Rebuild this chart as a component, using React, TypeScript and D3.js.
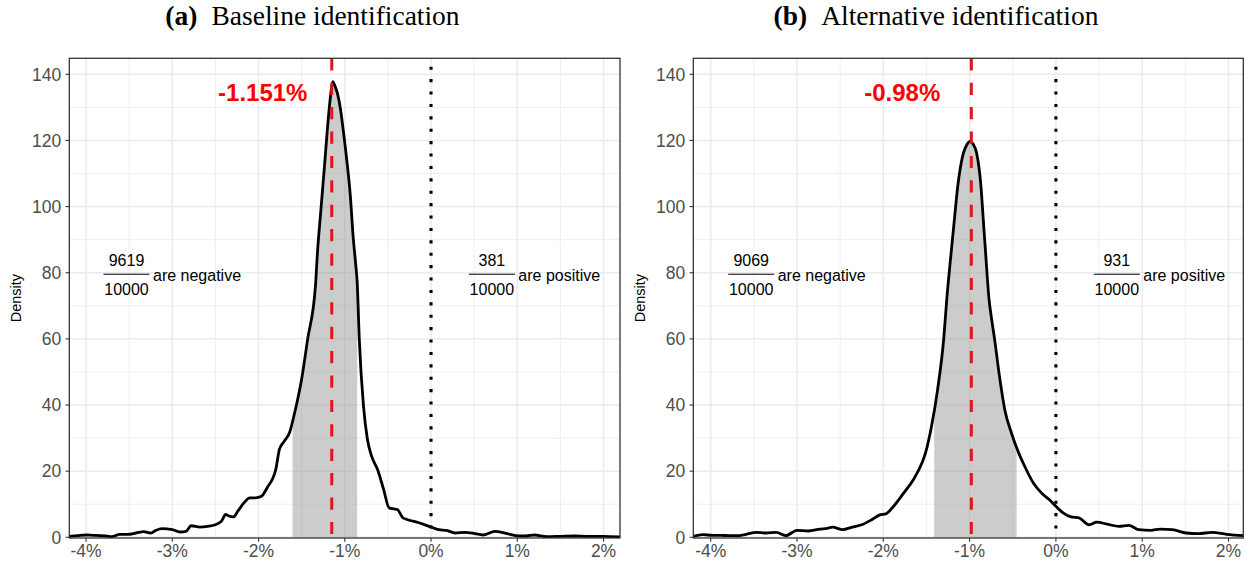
import React from 'react';
import * as d3 from 'd3';

// ---------------- data ----------------
const xTickValues = [-4, -3, -2, -1, 0, 1, 2];
const xMinorValues = [-3.5, -2.5, -1.5, -0.5, 0.5, 1.5];
const yTickValues = [0, 20, 40, 60, 80, 100, 120, 140];
const yMinorValues = [10, 30, 50, 70, 90, 110, 130];

const panelTags = ['(a)', '(b)'];
const panelTitles = ['Baseline identification', 'Alternative identification'];
const medianValues = [-1.151, -0.98];
const medianLabels = ['-1.151%', '-0.98%'];
const ciLower = [-1.605, -1.41];
const ciUpper = [-0.856, -0.455];
const negativeCounts = [9619, 9069];
const positiveCounts = [381, 931];
const drawCount = 10000;

const densityAX = [-4.19, -4.1, -4.0, -3.92, -3.84, -3.77, -3.7, -3.61, -3.52, -3.42, -3.33, -3.25, -3.19, -3.12, -3.0, -2.91, -2.84, -2.78, -2.68, -2.59, -2.5, -2.43, -2.38, -2.34, -2.29, -2.24, -2.17, -2.1, -2.035, -1.966, -1.9, -1.8, -1.758, -1.7, -1.64, -1.58, -1.5, -1.43, -1.34, -1.317, -1.28, -1.236, -1.19, -1.165, -1.14, -1.115, -1.086, -1.05, -1.023, -0.977, -0.938, -0.9, -0.875, -0.856, -0.832, -0.784, -0.738, -0.69, -0.62, -0.55, -0.486, -0.43, -0.39, -0.33, -0.28, -0.14, 0.0, 0.09, 0.18, 0.28, 0.39, 0.51, 0.6, 0.74, 0.88, 1.02, 1.1, 1.2, 1.34, 1.5, 1.67, 1.8, 1.99, 2.19];
const densityAY = [0.3, 0.5, 0.7, 0.6, 0.5, 0.4, 0.2, 0.9, 0.9, 1.3, 1.7, 1.3, 2.1, 2.6, 2.3, 1.6, 1.8, 3.5, 3.1, 3.3, 3.8, 4.9, 6.9, 6.4, 6.2, 7.9, 10.4, 11.9, 11.9, 12.4, 15, 20.5, 26.6, 29.1, 31.7, 37.8, 47.9, 60, 76, 86, 98, 112, 127, 133.5, 137.8, 136.5, 134.3, 129.5, 124.2, 114.1, 104, 89.9, 83, 77, 60, 40, 29.7, 24.6, 20.5, 14.5, 8.9, 8.6, 8.4, 6.0, 5.4, 4.4, 3.1, 2.3, 2.1, 1.3, 1.5, 1.1, 0.7, 1.8, 1.1, 0.4, 0.4, 0.7, 0.2, 0.3, 0.4, 0.3, 0.3, 0.1];

const densityBX = [-4.2, -4.09, -3.98, -3.88, -3.79, -3.7, -3.59, -3.47, -3.36, -3.24, -3.13, -3.0, -2.87, -2.73, -2.65, -2.59, -2.47, -2.36, -2.25, -2.13, -2.04, -1.97, -1.88, -1.76, -1.65, -1.55, -1.51, -1.44, -1.37, -1.3, -1.265, -1.215, -1.177, -1.138, -1.073, -1.03, -0.995, -0.96, -0.918, -0.868, -0.841, -0.814, -0.775, -0.745, -0.711, -0.655, -0.586, -0.517, -0.448, -0.355, -0.263, -0.171, -0.078, 0.0, 0.083, 0.175, 0.268, 0.383, 0.475, 0.59, 0.73, 0.845, 0.96, 1.1, 1.21, 1.35, 1.51, 1.65, 1.81, 1.98, 2.18];
const densityBY = [0.3, 0.8, 0.6, 0.6, 0.5, 0.5, 0.9, 1.5, 1.3, 1.5, 0.5, 2.1, 1.9, 2.5, 2.7, 3.1, 2.3, 3.1, 3.8, 5.4, 6.8, 7.1, 9.4, 13.5, 17.5, 22.6, 25.6, 33.7, 44.8, 60, 71.8, 85.8, 95.9, 106, 116.1, 118.8, 119.7, 118.9, 116.1, 106, 95.9, 85.8, 72, 66, 60, 48.9, 37.8, 31.7, 26.6, 21.1, 16.5, 13.5, 11.4, 9.4, 7.4, 6.2, 5.9, 3.8, 4.6, 4.0, 3.3, 3.6, 2.3, 2.1, 2.5, 2.3, 1.3, 1.1, 1.5, 0.9, 0.5];

const densityXs = [densityAX, densityBX];
const densityYs = [densityAY, densityBY];

// ---------------- layout ----------------
const W = 1247;
const H = 562;
const panelLeft = [69.3, 693.3];
const panelRight = [620, 1243.3];
const domainLeft = [-4.194, -4.2016];
const domainRight = [2.191, 2.1715];
const panelTop = 58.3;
const panelBottom = 538;
const yZeroPx = 537.3;
const yMax = 144.84;
const subfigCenter = [312.5, 936];

const sans = '"Liberation Sans", Arial, Helvetica, sans-serif';
const serif = '"Liberation Serif", "Times New Roman", serif';

let measureCtx: CanvasRenderingContext2D | null = null;
function textWidth(s: string, font: string): number {
  if (!measureCtx && typeof document !== 'undefined') {
    measureCtx = document.createElement('canvas').getContext('2d');
  }
  if (!measureCtx) return s.length * 8;
  measureCtx.font = font;
  return measureCtx.measureText(s).width;
}

function Fraction({ cx, cy, num, den, label }: { cx: number; cy: number; num: number; den: number; label: string }) {
  const fracSize = 16;
  const textSize = 16;
  const denW = textWidth(String(den), `${fracSize}px ${sans}`);
  const barW = denW + 1.5;
  const gap = 3.5;
  const labW = textWidth(label, `${textSize}px ${sans}`);
  const total = barW + gap + labW;
  const x0 = cx - total / 2;
  const barMid = x0 + barW / 2;
  return (
    <g fontFamily={sans} fill="#000">
      <text x={barMid} y={cy - 7} fontSize={fracSize} textAnchor="middle">{num}</text>
      <line x1={x0} x2={x0 + barW} y1={cy + 1.5} y2={cy + 1.5} stroke="#000" strokeWidth={1} />
      <text x={barMid} y={cy + 22.3} fontSize={fracSize} textAnchor="middle">{den}</text>
      <text x={x0 + barW + gap} y={cy + 8.3} fontSize={textSize}>{label}</text>
    </g>
  );
}

function Panel({ i }: { i: number }) {
  const x = d3.scaleLinear().domain([domainLeft[i], domainRight[i]]).range([panelLeft[i], panelRight[i]]);
  const y = d3.scaleLinear().domain([0, yMax]).range([yZeroPx, panelTop]);
  const pts: [number, number][] = densityXs[i].map((v, j) => [v, densityYs[i][j]]);
  const line = d3.line<[number, number]>().x(d => x(d[0])).y(d => y(d[1])).curve(d3.curveMonotoneX);
  const area = d3.area<[number, number]>().x(d => x(d[0])).y0(y(0)).y1(d => y(d[1])).curve(d3.curveMonotoneX);
  const x0 = panelLeft[i];
  const x1 = panelRight[i];
  const clipId = `panel-clip-${i}`;
  const ciId = `ci-clip-${i}`;
  const tagFont = `bold 27.5px ${serif}`;
  const titleFont = `27.5px ${serif}`;
  const tagW = textWidth(panelTags[i], tagFont);
  const titleW = textWidth(panelTitles[i], titleFont);
  const titleGap = 14;
  const tStart = subfigCenter[i] - (tagW + titleGap + titleW) / 2;
  return (
    <g>
      <defs>
        <clipPath id={clipId}>
          <rect x={x0} y={panelTop} width={x1 - x0} height={panelBottom - panelTop} />
        </clipPath>
        <clipPath id={ciId}>
          <rect x={x(ciLower[i])} y={panelTop} width={x(ciUpper[i]) - x(ciLower[i])} height={panelBottom - panelTop} />
        </clipPath>
      </defs>
      {/* title */}
      <text x={tStart} y={25} fontFamily={serif} fontSize={27.5} fontWeight="bold" fill="#000">{panelTags[i]}</text>
      <text x={tStart + tagW + titleGap} y={25} fontFamily={serif} fontSize={27.5} fill="#000">{panelTitles[i]}</text>

      {/* panel background */}
      <rect x={x0} y={panelTop} width={x1 - x0} height={panelBottom - panelTop} fill="#fff" />
      {/* grid */}
      <g stroke="#ebebeb" fill="none">
        {yMinorValues.map(v => (
          <line key={`ym${v}`} x1={x0} x2={x1} y1={y(v)} y2={y(v)} strokeWidth={0.8} />
        ))}
        {xMinorValues.map(v => (
          <line key={`xm${v}`} x1={x(v)} x2={x(v)} y1={panelTop} y2={panelBottom} strokeWidth={0.8} />
        ))}
        {yTickValues.map(v => (
          <line key={`yM${v}`} x1={x0} x2={x1} y1={y(v)} y2={y(v)} strokeWidth={1.5} />
        ))}
        {xTickValues.map(v => (
          <line key={`xM${v}`} x1={x(v)} x2={x(v)} y1={panelTop} y2={panelBottom} strokeWidth={1.5} />
        ))}
      </g>

      <g clipPath={`url(#${clipId})`}>
        {/* shaded interval */}
        <g clipPath={`url(#${ciId})`}>
          <path d={area(pts) || ''} fill="#999999" fillOpacity={0.5} />
        </g>
        {/* zero line */}
        <line x1={x(0)} x2={x(0)} y1={panelTop} y2={panelBottom} stroke="#000" strokeWidth={3.1} strokeDasharray="3.1 9.3" strokeDashoffset={4} />
        {/* density curve */}
        <path d={line(pts) || ''} fill="none" stroke="#000" strokeWidth={2.8} strokeLinejoin="round" />
        {/* median line */}
        <line x1={x(medianValues[i])} x2={x(medianValues[i])} y1={panelTop} y2={panelBottom} stroke="#e2141c" strokeWidth={3} strokeDasharray="12.2 12.2" />
      </g>

      {/* median label */}
      <text x={x(medianValues[i] - 0.8)} y={y(132)} textAnchor="middle" fontFamily={sans} fontWeight="bold" fontSize={24} fill="#ff0000">{medianLabels[i]}</text>

      {/* fraction annotations */}
      <Fraction cx={x(-3)} cy={y(80)} num={negativeCounts[i]} den={drawCount} label="are negative" />
      <Fraction cx={x(1.2)} cy={y(80)} num={positiveCounts[i]} den={drawCount} label="are positive" />

      {/* border */}
      <rect x={x0} y={panelTop} width={x1 - x0} height={panelBottom - panelTop} fill="none" stroke="#333333" strokeWidth={1.3} />

      {/* axes ticks */}
      <g stroke="#333333" strokeWidth={1.1}>
        {yTickValues.map(v => (
          <line key={`yt${v}`} x1={x0 - 3.7} x2={x0} y1={y(v)} y2={y(v)} />
        ))}
        {xTickValues.map(v => (
          <line key={`xt${v}`} x1={x(v)} x2={x(v)} y1={panelBottom} y2={panelBottom + 3.7} />
        ))}
      </g>
      <g fontFamily={sans} fontSize={17.5} fill="#4d4d4d">
        {yTickValues.map(v => (
          <text key={`yl${v}`} x={x0 - 8} y={y(v)} dy="0.36em" textAnchor="end">{v}</text>
        ))}
        {xTickValues.map(v => (
          <text key={`xl${v}`} x={x(v)} y={557.3} textAnchor="middle">{`${v}%`}</text>
        ))}
      </g>
      {/* y axis title */}
      <text transform={`translate(${x0 - 48.5},${(panelTop + panelBottom) / 2}) rotate(-90)`} textAnchor="middle" fontFamily={sans} fontSize={14.5} fill="#000">Density</text>
    </g>
  );
}

export default function App() {
  return (
    <svg width={W} height={H} viewBox={`0 0 ${W} ${H}`} style={{ position: 'absolute', left: 0, top: 0, background: '#fff' }}>
      <rect x={0} y={0} width={W} height={H} fill="#fff" />
      <Panel i={0} />
      <Panel i={1} />
    </svg>
  );
}
